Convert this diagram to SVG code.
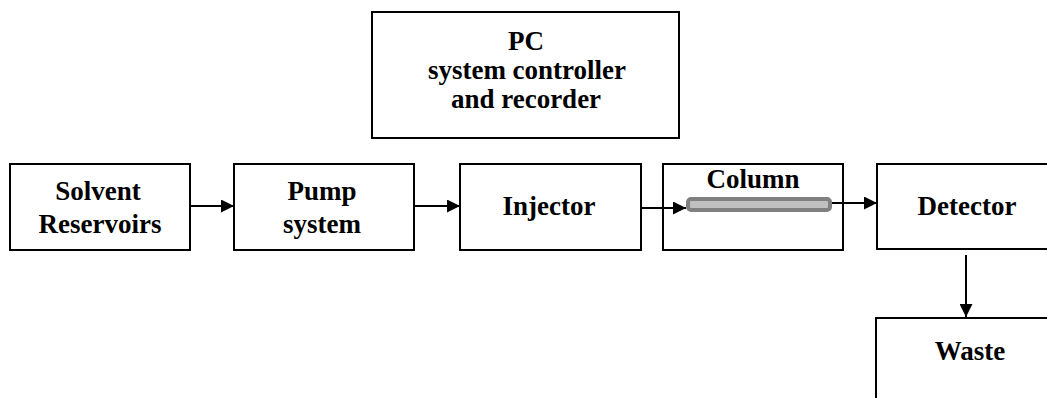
<svg xmlns="http://www.w3.org/2000/svg" width="1047" height="398" viewBox="0 0 1047 398">
  <style>
    .box { fill: #ffffff; stroke: #000000; stroke-width: 2; }
    .lbl { font-family: "Liberation Serif", "Times New Roman", serif; font-weight: bold; font-size: 27px; fill: #000000; text-anchor: middle; }
    .flow { stroke: #000000; stroke-width: 2; fill: none; marker-end: url(#head); }
  </style>
  <defs>
    <marker id="head" viewBox="0 0 13 13" refX="13" refY="6.5" markerWidth="13" markerHeight="13" markerUnits="userSpaceOnUse" orient="auto">
      <path d="M0,0 L13,6.5 L0,13 Z" fill="#000000"/>
    </marker>
  </defs>
  <rect width="1047" height="398" fill="#ffffff"/>

  <g id="pc">
    <rect class="box" x="372" y="12" width="307" height="126"/>
    <text class="lbl" x="526" y="50">PC</text>
    <text class="lbl" x="527" y="79">system controller</text>
    <text class="lbl" x="526" y="108">and recorder</text>
  </g>

  <g id="solvent">
    <rect class="box" x="10" y="164" width="180" height="86"/>
    <text class="lbl" x="98" y="200">Solvent</text>
    <text class="lbl" x="100" y="233">Reservoirs</text>
  </g>

  <g id="pump">
    <rect class="box" x="234" y="164" width="180" height="86"/>
    <text class="lbl" x="322" y="200">Pump</text>
    <text class="lbl" x="322" y="233">system</text>
  </g>

  <g id="injector">
    <rect class="box" x="460" y="164" width="181" height="86"/>
    <text class="lbl" x="549" y="215">Injector</text>
  </g>

  <g id="column">
    <rect class="box" x="663" y="164" width="180" height="86"/>
    <text class="lbl" x="753" y="188">Column</text>
    <rect x="688" y="199" width="142" height="11" rx="3" fill="#c0c0c0" stroke="#808080" stroke-width="4"/>
  </g>

  <g id="detector">
    <rect class="box" x="877" y="164" width="185" height="85"/>
    <text class="lbl" x="967" y="215">Detector</text>
  </g>

  <g id="waste">
    <rect class="box" x="876" y="318" width="190" height="100"/>
    <text class="lbl" x="970" y="360">Waste</text>
  </g>

  <g id="connectors">
    <line class="flow" x1="190" y1="206" x2="234" y2="206"/>
    <line class="flow" x1="414" y1="206" x2="460" y2="206"/>
    <line class="flow" x1="641" y1="208" x2="686" y2="208"/>
    <line class="flow" x1="832" y1="203" x2="877" y2="203"/>
    <line class="flow" x1="966" y1="255" x2="966" y2="317"/>
  </g>
</svg>
